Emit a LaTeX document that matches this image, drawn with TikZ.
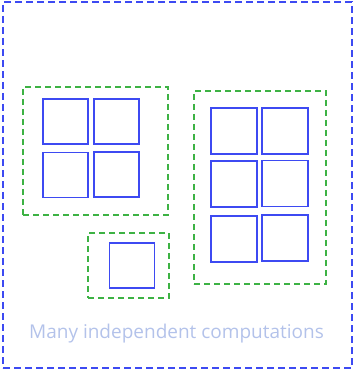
\documentclass[tikz,border=0pt]{standalone}
\usepackage{fontspec}
\setmainfont{Open Sans}
\definecolor{cblue}{HTML}{3D4AF2}
\definecolor{cgreen}{HTML}{3DB244}
\definecolor{ctext}{HTML}{B3C2EA}
\begin{document}
\begin{tikzpicture}[x=1pt,y=-1pt,
  sq/.style={draw=cblue,line width=1.5pt,minimum width=45pt,minimum height=45pt,inner sep=0pt,outer sep=0pt},
  grp/.style={draw=cgreen,line width=1.5pt,dash pattern=on 6pt off 4pt,inner sep=0pt},
  outerbox/.style={draw=cblue,line width=1.5pt,dash pattern=on 7pt off 4pt,inner sep=0pt}]
\useasboundingbox (0,0) rectangle (355,371);
\node[outerbox,minimum width=349pt,minimum height=366pt] (outer) at (177.5,185) {};
% group 1
\node[grp,minimum width=145pt,minimum height=128pt] (g1) at (95.5,151) {};
\node[sq] (a1) at (65.5,121.5) {};
\node[sq] (a2) at (116.5,121.5) {};
\node[sq] (a3) at (65.5,175) {};
\node[sq] (a4) at (116.5,174.5) {};
% group 2
\node[grp,minimum width=81pt,minimum height=65pt] (g2) at (128.5,265.5) {};
\node[sq] (b1) at (132,265.5) {};
% group 3
\node[grp,minimum width=132pt,minimum height=193pt] (g3) at (260,187.5) {};
\node[sq,minimum width=46pt,minimum height=46pt] (c1) at (234,131) {};
\node[sq,minimum width=46pt,minimum height=46pt] (c2) at (285,131) {};
\node[sq,minimum width=46pt,minimum height=46pt] (c3) at (234,184) {};
\node[sq,minimum width=46pt,minimum height=46pt] (c4) at (285,183.5) {};
\node[sq,minimum width=46pt,minimum height=46pt] (c5) at (234,239) {};
\node[sq,minimum width=46pt,minimum height=46pt] (c6) at (285,238) {};
\node[text=ctext,font=\fontsize{19}{22}\selectfont,inner sep=0pt] (lbl) at (176.5,334) {Many independent computations};
\end{tikzpicture}
\end{document}
